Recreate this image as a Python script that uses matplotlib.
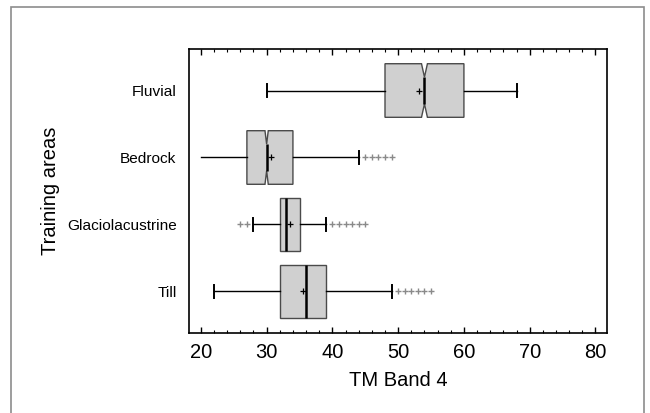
import numpy as np
import matplotlib.pyplot as plt
from matplotlib.patches import Rectangle

plt.rcParams['font.family'] = ['Liberation Sans', 'DejaVu Sans']

# Datos (de abajo hacia arriba)
areas = ['Till', 'Glaciolacustrine', 'Bedrock', 'Fluvial']
whislo = [22, 28, 20, 30]
q1 = [32, 32, 27, 48]
med = [36, 33, 30, 54]
q3 = [39, 35, 34, 60]
whishi = [49, 39, 44, 68]
means = [35.5, 33.5, 30.6, 53.2]
fliers = [[50, 51, 52, 53, 54, 55],
          [26, 27, 40, 41, 42, 43, 44, 45],
          [45, 46, 47, 48, 49],
          []]
notch_hw = [0, 0, 0.25, 0.45]  # semiancho de la muesca (0 = sin muesca)
sin_tope_inferior = ['Bedrock']  # bigote inferior sin tope en el original

stats = []
for i in range(len(areas)):
    stats.append(dict(label=areas[i], whislo=whislo[i], q1=q1[i], med=med[i],
                      q3=q3[i], whishi=whishi[i], mean=means[i],
                      fliers=np.array(fliers[i]),
                      cilo=med[i] - notch_hw[i], cihi=med[i] + notch_hw[i]))

fig = plt.figure(figsize=(6.5, 4.13), dpi=100)
ax = fig.add_axes([0.2908, 0.1937, 0.6435, 0.6877])

estilo = dict(
    vert=False, widths=0.8, patch_artist=True, showmeans=True,
    boxprops=dict(facecolor='#d0d0d0', edgecolor='#4a4a4a', linewidth=1.0),
    medianprops=dict(color='black', linewidth=1.8),
    whiskerprops=dict(color='black', linewidth=1.0),
    capprops=dict(color='black', linewidth=1.4),
    capwidths=0.2,
    flierprops=dict(marker='+', markersize=4.5, markeredgecolor='#8a8a8a', markeredgewidth=1.0),
    meanprops=dict(marker='+', markersize=4, markeredgecolor='black', markeredgewidth=0.9),
)

pos = np.arange(1, len(areas) + 1)
for muesca in (False, True):
    idx = [i for i in range(len(areas)) if (notch_hw[i] > 0) == muesca]
    res = ax.bxp([stats[i] for i in idx], positions=pos[idx], shownotches=muesca, **estilo)
    for k, i in enumerate(idx):
        if areas[i] in sin_tope_inferior:
            res['caps'][2 * k].set_visible(False)

ax.set_yticks(pos)
ax.set_yticklabels(areas)
ax.set_ylim(0.38, 4.62)
ax.set_xlim(18.2, 81.8)
ax.set_xticks(np.arange(20, 81, 10))
ax.set_xticks(np.arange(20, 81, 2), minor=True)

ax.tick_params(axis='y', length=0, labelsize=11.1, pad=9)
ax.tick_params(axis='x', which='major', direction='in', length=4, width=1,
               top=True, labelsize=14.5, pad=7)
ax.tick_params(axis='x', which='minor', direction='in', length=2, width=0.8, top=True)
for s in ax.spines.values():
    s.set_linewidth(1.2)

ax.set_xlabel('TM Band 4', fontsize=14.5, labelpad=7)
ax.set_ylabel('Training areas', fontsize=14.5, labelpad=5)

# Marco exterior gris (abierto por abajo)
fig.patches.append(Rectangle((11 / 650, -0.2), (644 - 11) / 650, 1.2 - 7 / 413,
                             transform=fig.transFigure, fill=False,
                             edgecolor='#8c8c8c', linewidth=1.2))

fig.savefig('out.png', dpi=100)
